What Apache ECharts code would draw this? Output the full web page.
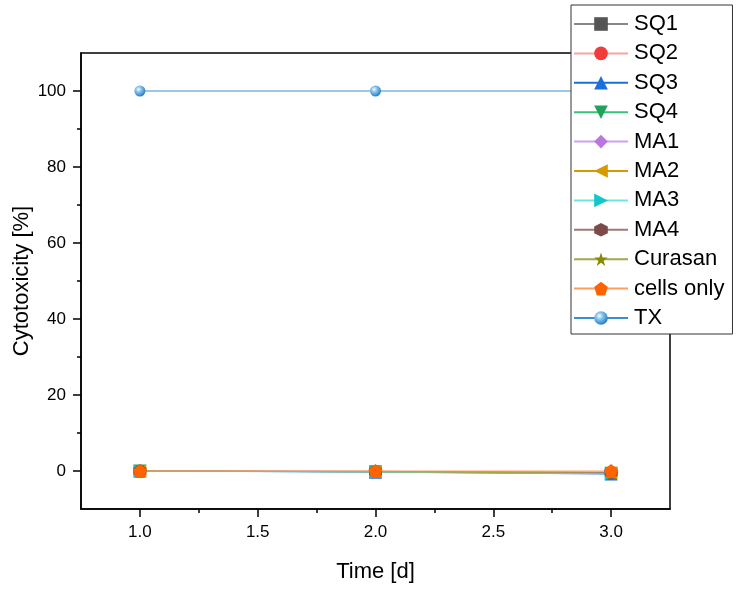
<!DOCTYPE html>
<html><head><meta charset="utf-8">
<script src="https://cdn.jsdelivr.net/npm/echarts@6/dist/echarts.min.js"></script>
<style>html,body{margin:0;padding:0;background:#fff}#c{width:736px;height:589px}</style>
</head><body><div id="c"></div>
<script>
// ---- data ----
const days = [1, 2, 3];
const SQ1 = [0.0, -0.2, -0.4];
const SQ2 = [0.0, -0.1, -0.3];
const SQ3 = [0.0, -0.3, -0.8];
const SQ4 = [0.0, -0.2, -0.6];
const MA1 = [0.0, -0.1, -0.3];
const MA2 = [0.0, -0.2, -0.5];
const MA3 = [0.0, -0.3, -0.7];
const MA4 = [0.0, -0.1, -0.4];
const Curasan = [0.0, -0.2, -0.6];
const cellsOnly = [0.0, 0.0, 0.0];
const TX = [100, 100, 100];
const xMajorTicks = [1.0, 1.5, 2.0, 2.5, 3.0];
const xMinorTicks = [1.25, 1.75, 2.25, 2.75];
const yMajorTicks = [0, 20, 40, 60, 80, 100];
const yMinorTicks = [10, 30, 50, 70, 90];

// ---- styles ----
const FONT = 'Liberation Sans, Arial, sans-serif';
const sym = {
  invTri: 'path://M0,0 L10,0 L5,9 Z',
  leftTri: 'path://M9,0 L9,10 L0,5 Z',
  rightTri: 'path://M0,0 L0,10 L9,5 Z',
  hex: 'path://M5,0 L9.33,2.5 L9.33,7.5 L5,10 L0.67,7.5 L0.67,2.5 Z',
  star: 'path://M5,0 L6.18,3.6 L9.95,3.6 L6.9,5.85 L8.09,9.5 L5,7.25 L1.91,9.5 L3.1,5.85 L0.05,3.6 L3.82,3.6 Z',
  pent: 'path://M5,0 L10,3.7 L8.1,9.6 L1.9,9.6 L0,3.7 Z'
};
const txGrad = {type:'radial', x:0.38, y:0.35, r:0.65, colorStops:[
  {offset:0, color:'#ffffff'}, {offset:0.35, color:'#8cc8f0'}, {offset:1, color:'#2b7fc2'}]};

const defs = [
  ['SQ1', SQ1, 'rect', '#555555', '#888888', 11],
  ['SQ2', SQ2, 'circle', '#F23B3B', '#F6A3A3', 13],
  ['SQ3', SQ3, 'triangle', '#1A6FDF', '#1A6FDF', 13],
  ['SQ4', SQ4, sym.invTri, '#1FA35B', '#37C27A', 13],
  ['MA1', MA1, 'diamond', '#B878E0', '#CDA2EC', 14],
  ['MA2', MA2, sym.leftTri, '#D49A00', '#D49A00', 13],
  ['MA3', MA3, sym.rightTri, '#12C7CC', '#6AE6E6', 13],
  ['MA4', MA4, sym.hex, '#7D4A4A', '#A07878', 13],
  ['Curasan', Curasan, sym.star, '#8A8A00', '#A6A64A', 14],
  ['cells only', cellsOnly, sym.pent, '#FF6200', '#FF9E5E', 14],
  ['TX', TX, 'circle', txGrad, '#3A8FD0', 11]
];

const series = defs.map(d => ({
  name: d[0], type: 'line',
  data: days.map((x, i) => [x, d[1][i]]),
  symbol: d[2], symbolSize: d[5],
  itemStyle: { color: d[3] },
  lineStyle: { color: d[4], width: 1 },
  emphasis: { disabled: true },
  xAxisIndex: 0, yAxisIndex: 0
}));

const chart = echarts.init(document.getElementById('c'), null, {renderer:'canvas'});
chart.setOption({
  animation: false,
  backgroundColor: '#fff',
  textStyle: { fontFamily: FONT },
  grid: { left: 81, right: 66, top: 53, bottom: 80, show: true, borderColor: '#000', borderWidth: 1.5, backgroundColor: 'transparent', containLabel: false, outerBoundsMode: 'none' },
  legend: {
    orient: 'vertical', left: 571, top: 5,
    padding: [8, 8, 5, 2], itemGap: 7.4, itemWidth: 54, itemHeight: 17,
    backgroundColor: '#fff', borderColor: '#333', borderWidth: 1,
    selectedMode: false,
    textStyle: { fontFamily: FONT, fontSize: 22, color: '#000', lineHeight: 22, padding: [0,0,0,1] },
    data: defs.map(d => d[0])
  },
  xAxis: [{
    type: 'value', min: 0.75, max: 3.25, position: 'bottom',
    name: 'Time [d]', nameLocation: 'middle', nameGap: 52, nameMoveOverlap: false,
    nameTextStyle: { fontFamily: FONT, fontSize: 22, color: '#000' },
    axisLine: { onZero: false, lineStyle: { color: '#000', width: 1.5 } },
    axisTick: { show: true, customValues: xMajorTicks, length: 8, lineStyle: { color: '#000', width: 1.5 } },
    axisLabel: { customValues: xMajorTicks, margin: 15, fontFamily: FONT, fontSize: 17, color: '#000', formatter: v => v.toFixed(1) },
    splitLine: { show: false }
  }, {
    type: 'value', min: 0.75, max: 3.25, position: 'bottom', offset: 0,
    axisLine: { show: false, onZero: false },
    axisTick: { show: true, customValues: xMinorTicks, length: 4, lineStyle: { color: '#000', width: 1.5 } },
    axisLabel: { show: false }, splitLine: { show: false }
  }],
  yAxis: [{
    type: 'value', min: -10, max: 110, position: 'left',
    name: 'Cytotoxicity [%]', nameLocation: 'middle', nameGap: 48, nameMoveOverlap: false,
    nameTextStyle: { fontFamily: FONT, fontSize: 22, color: '#000' },
    axisLine: { show: true, onZero: false, lineStyle: { color: '#000', width: 1.5 } },
    axisTick: { show: true, customValues: yMajorTicks, length: 8, lineStyle: { color: '#000', width: 1.5 } },
    axisLabel: { customValues: yMajorTicks, margin: 15, fontFamily: FONT, fontSize: 17, color: '#000' },
    splitLine: { show: false }
  }, {
    type: 'value', min: -10, max: 110, position: 'left', offset: 0,
    axisLine: { show: false, onZero: false },
    axisTick: { show: true, customValues: yMinorTicks, length: 4, lineStyle: { color: '#000', width: 1.5 } },
    axisLabel: { show: false }, splitLine: { show: false }
  }],
  series: series
});
</script>
</body></html>
